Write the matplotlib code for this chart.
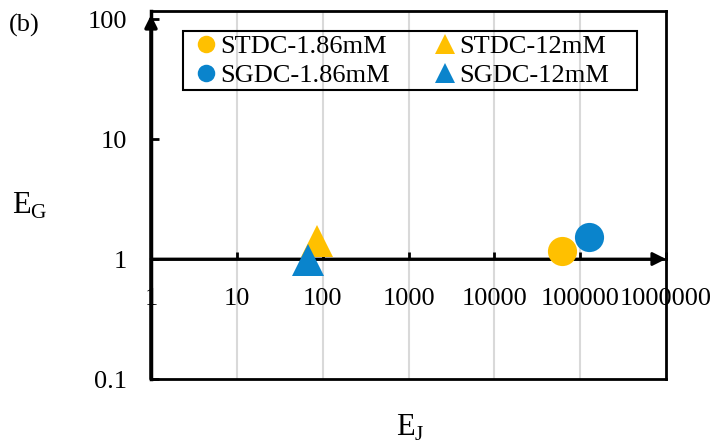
import matplotlib
matplotlib.use("Agg")
import matplotlib.pyplot as plt
from matplotlib.patches import Rectangle

plt.rcParams["font.family"] = ["Liberation Serif", "DejaVu Serif"]
plt.rcParams["mathtext.fontset"] = "custom"
plt.rcParams["mathtext.rm"] = "Liberation Serif"

# values
series_names = ["STDC-1.86mM", "SGDC-1.86mM", "STDC-12mM", "SGDC-12mM"]
ej_values = [61500, 127000, 86, 67]
eg_values = [1.17, 1.52, 1.40, 0.98]
series_markers = ["o", "o", "^", "^"]
series_colors = ["#FFC000", "#0A84CC", "#FFC000", "#0A84CC"]

x_ticks = [1, 10, 100, 1000, 10000, 100000, 1000000]
x_tick_labels = ["1", "10", "100", "1000", "10000", "100000", "1000000"]
y_ticks = [0.1, 1, 10, 100]
y_tick_labels = ["0.1", "1", "10", "100"]

FS = 19

fig = plt.figure(figsize=(7.17, 4.46), dpi=100)
ax = fig.add_axes([151 / 717, 1 - 379 / 446, 515 / 717, 368 / 446])

ax.set_xscale("log")
ax.set_yscale("log")
ax.set_xlim(1, 1e6)
ax.set_ylim(0.1, 10 ** (368 / 120 - 1))

for xv in x_ticks[1:-1]:
    ax.axvline(xv, color="#d9d9d9", lw=1.5, zorder=0)

handles = []
for name, xv, yv, mk, col in zip(series_names, ej_values, eg_values, series_markers, series_colors):
    size = 21 if mk == "o" else 23
    h, = ax.plot([xv], [yv], linestyle="none", marker=mk, markersize=size,
                 color=col, markeredgewidth=0, label=name, zorder=5)
    handles.append(h)

# axes: x axis crosses at EG = 1
ax.spines["bottom"].set_position(("data", 1))
ax.spines["bottom"].set_linewidth(2)
ax.spines["left"].set_linewidth(2.5)
ax.spines["top"].set_linewidth(2)
ax.spines["right"].set_linewidth(2)
ax.plot([0, 1], [0, 0], transform=ax.transAxes, color="k", lw=2, clip_on=False)

ax.annotate("", xy=(1e6, 1), xytext=(1, 1),
            arrowprops=dict(arrowstyle="-|>", lw=2, color="k", mutation_scale=20, shrinkA=0, shrinkB=0))
ax.annotate("", xy=(1, 10 ** (364 / 120 - 1)), xytext=(1, 0.1),
            arrowprops=dict(arrowstyle="-|>", lw=2.5, color="k", mutation_scale=18, shrinkA=0, shrinkB=0),
            annotation_clip=False)

ax.set_xticks(x_ticks)
ax.set_xticklabels(x_tick_labels)
ax.set_yticks(y_ticks)
ax.set_yticklabels(y_tick_labels)
ax.minorticks_off()
ax.tick_params(axis="x", direction="in", length=5, width=2, pad=21, labelsize=FS)
ax.tick_params(axis="y", direction="in", length=6, width=2, pad=17, labelsize=FS)

fig.text(30 / 717, 1 - 206 / 446, r"E$_{\mathrm{G}}$", fontsize=22, ha="center", va="center")
fig.text(410 / 717, 1 - 428 / 446, r"E$_{\mathrm{J}}$", fontsize=22, ha="center", va="center")
fig.text(9 / 717, 1 - 25 / 446, "(b)", fontsize=FS, ha="left", va="center")

leg = ax.legend(handles=handles, ncol=2, loc="upper left",
                bbox_to_anchor=(196 / 717, 1 - 35 / 446), bbox_transform=fig.transFigure,
                fontsize=FS, markerscale=0.6, frameon=False,
                handlelength=0.75, handletextpad=0.15, columnspacing=1.75,
                borderpad=0, labelspacing=0.2, borderaxespad=0)
fig.patches.append(Rectangle((183 / 717, 1 - 90 / 446), 454 / 717, 59 / 446,
                             transform=fig.transFigure, fill=False, edgecolor="k", lw=1.5, zorder=6))

fig.savefig("out.png", dpi=100)
